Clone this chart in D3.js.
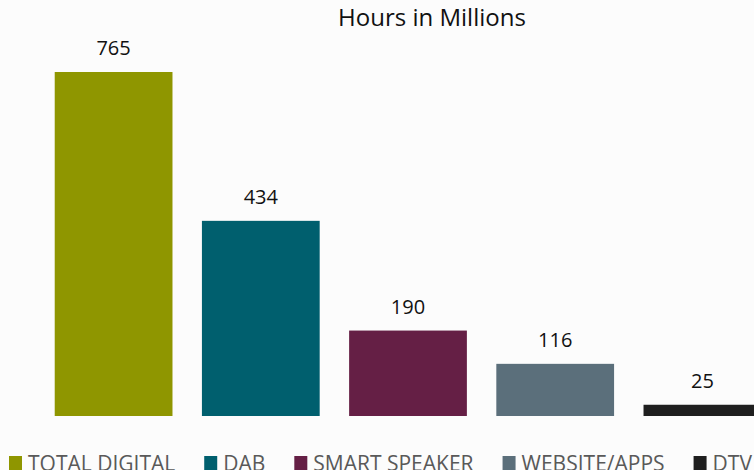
<html>
<head>
<script src="https://d3js.org/d3.v7.min.js"></script>
<style>
  body { margin: 0; background: #fcfcfc; overflow: hidden; }
  text { font-family: "Open Sans", "Noto Sans", sans-serif; }
</style>
</head>
<body>
<svg id="chart" width="754" height="470"></svg>
<script>
    // values
    categories = ["TOTAL DIGITAL", "DAB", "SMART SPEAKER", "WEBSITE/APPS", "DTV"];
    hours = [765, 434, 190, 116, 25];
    colors = ["#8f9600", "#005f6e", "#651f45", "#5b6f7b", "#1f1f1f"];
    title = "Hours in Millions";

    width = 754;
    height = 470;
    baseline = 416;

    svg = d3.select("#chart");

    x = d3.scaleBand()
        .domain(categories)
        .range([40, 776])
        .paddingInner(0.2)
        .paddingOuter(0.1);

    y = d3.scaleLinear()
        .domain([0, 765])
        .range([baseline, 72]);

    svg.append("text")
        .attr("x", 432)
        .attr("y", 26)
        .attr("text-anchor", "middle")
        .attr("font-size", 24)
        .attr("fill", "#111")
        .text(title);

    // bars
    svg.append("g")
        .selectAll("rect")
        .data(hours)
        .enter()
        .append("rect")
        .attr("x", (d, i) => x(categories[i]))
        .attr("y", d => y(d))
        .attr("width", x.bandwidth())
        .attr("height", d => baseline - y(d))
        .attr("fill", (d, i) => colors[i]);

    // value labels
    svg.append("g")
        .selectAll("text")
        .data(hours)
        .enter()
        .append("text")
        .attr("x", (d, i) => x(categories[i]) + x.bandwidth() / 2)
        .attr("y", d => y(d) - 17)
        .attr("text-anchor", "middle")
        .attr("font-size", 20)
        .attr("fill", "#111")
        .text(d => d);

    // legend, laid out left to right by text width (cut off at the bottom like the original)
    legend = svg.append("g");
    lx = 9;
    categories.forEach((c, i) => {
        legend.append("rect")
            .attr("x", lx)
            .attr("y", 456)
            .attr("width", 13)
            .attr("height", 14)
            .attr("fill", colors[i]);
        t = legend.append("text")
            .attr("x", lx + 19)
            .attr("y", 471)
            .attr("font-size", 21)
            .attr("fill", "#595959")
            .text(c);
        lx = lx + 19 + t.node().getComputedTextLength() + 29;
    });
</script>
</body>
</html>
